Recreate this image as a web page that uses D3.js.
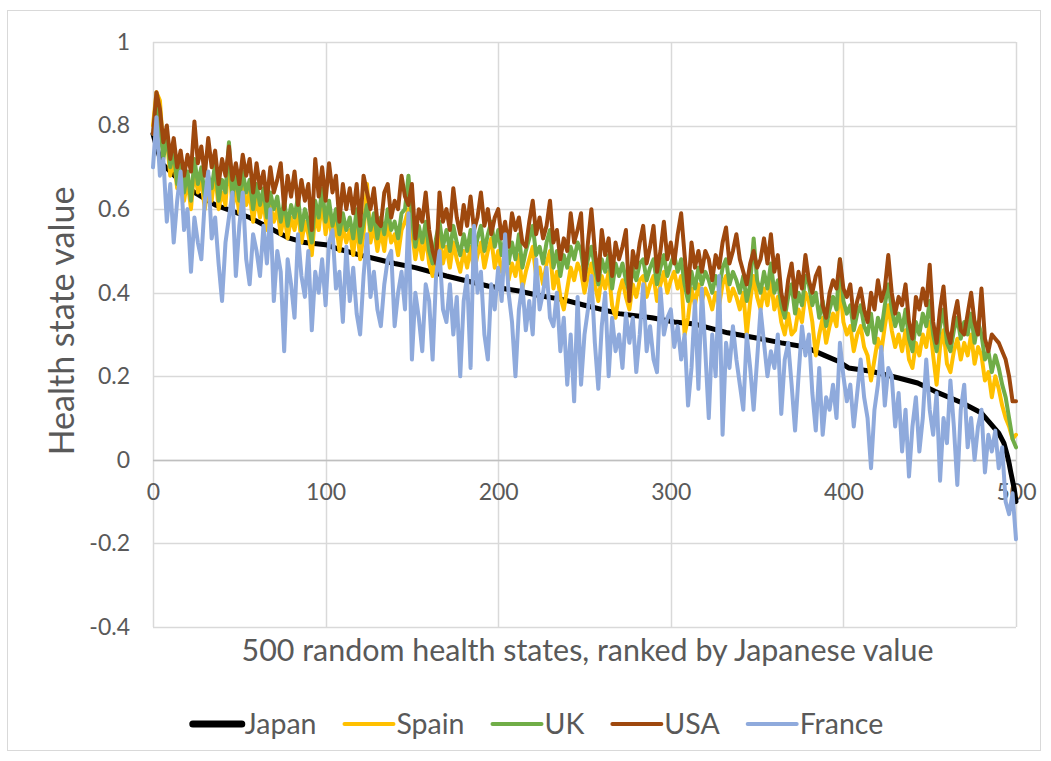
<!DOCTYPE html>
<html>
<head>
<meta charset="utf-8">
<script src="https://cdn.jsdelivr.net/npm/d3@7/dist/d3.min.js"></script>
<style>
  html, body { margin: 0; padding: 0; background: #ffffff; }
  svg { display: block; }
  text { font-family: Lato, "Open Sans", "Liberation Sans", sans-serif; fill: #595959; }
</style>
</head>
<body>
<svg id="chart" width="1051" height="761"></svg>
<script>
// ---------- DATA ----------
const seriesNames = ["Japan", "Spain", "UK", "USA", "France"];
const seriesColors = ["#000000", "#FFC000", "#70AD47", "#9E480E", "#8FAADC"];

const xTicks = [0, 100, 200, 300, 400, 500];
const yTicks = [-0.4, -0.2, 0, 0.2, 0.4, 0.6, 0.8, 1];
const yTickLabels = ["-0.4", "-0.2", "0", "0.2", "0.4", "0.6", "0.8", "1"];

// rank positions of the sampled health states (every 2nd rank)
const ranks = d3.range(0, 501, 2);

// Japan is smooth (it defines the ranking)
const japanRanks = [0, 2, 5, 10, 15, 24, 36, 56, 78, 88, 100, 108, 120, 130, 140, 152, 170, 194, 212, 225, 237, 250, 270, 289, 302, 314, 333, 352, 364, 378, 389, 397, 403, 416, 432, 443, 453, 469, 480, 490, 493, 495, 496, 497, 498, 499, 500];
const japanValues = [0.78, 0.75, 0.71, 0.69, 0.67, 0.64, 0.61, 0.58, 0.532, 0.52, 0.515, 0.504, 0.49, 0.48, 0.47, 0.46, 0.44, 0.416, 0.404, 0.392, 0.384, 0.37, 0.35, 0.34, 0.33, 0.325, 0.304, 0.29, 0.28, 0.27, 0.25, 0.236, 0.22, 0.212, 0.196, 0.184, 0.164, 0.136, 0.112, 0.064, 0.04, 0.01, -0.008, -0.03, -0.05, -0.07, -0.1];

const spainValues = [
  0.80, 0.88, 0.86, 0.74, 0.77, 0.68, 0.72, 0.65, 0.69, 0.62, 0.67, 0.60, 0.70, 0.64, 0.67, 0.60, 0.66, 0.62, 0.69, 0.60, 0.64, 0.61, 0.73, 0.60, 0.65,
  0.59, 0.66, 0.61, 0.64, 0.57, 0.63, 0.58, 0.62, 0.55, 0.61, 0.57, 0.60, 0.54, 0.59, 0.53, 0.58, 0.55, 0.60, 0.52, 0.57, 0.54, 0.49, 0.59, 0.55, 0.62,
  0.54, 0.59, 0.52, 0.57, 0.50, 0.56, 0.52, 0.55, 0.49, 0.57, 0.48, 0.54, 0.66, 0.52, 0.56, 0.50, 0.55, 0.50, 0.57, 0.52, 0.54, 0.49, 0.55, 0.57, 0.60,
  0.55, 0.48, 0.53, 0.48, 0.54, 0.47, 0.44, 0.50, 0.54, 0.47, 0.51, 0.46, 0.52, 0.48, 0.45, 0.50, 0.46, 0.51, 0.45, 0.49, 0.52, 0.46, 0.50, 0.53, 0.46,
  0.50, 0.45, 0.48, 0.43, 0.47, 0.44, 0.49, 0.41, 0.45, 0.48, 0.51, 0.44, 0.46, 0.42, 0.47, 0.50, 0.41, 0.45, 0.39, 0.36, 0.41, 0.46, 0.43, 0.47, 0.45,
  0.40, 0.44, 0.47, 0.42, 0.38, 0.44, 0.41, 0.45, 0.37, 0.34, 0.40, 0.43, 0.39, 0.36, 0.42, 0.39, 0.43, 0.44, 0.39, 0.42, 0.44, 0.38, 0.42, 0.45, 0.40,
  0.43, 0.45, 0.41, 0.44, 0.30, 0.34, 0.41, 0.37, 0.42, 0.38, 0.41, 0.39, 0.36, 0.40, 0.37, 0.42, 0.44, 0.38, 0.41, 0.39, 0.36, 0.40, 0.30, 0.38, 0.44,
  0.39, 0.36, 0.41, 0.37, 0.43, 0.36, 0.39, 0.33, 0.30, 0.35, 0.30, 0.31, 0.36, 0.33, 0.40, 0.38, 0.33, 0.25, 0.30, 0.34, 0.28, 0.32, 0.35, 0.32, 0.42,
  0.33, 0.30, 0.32, 0.26, 0.30, 0.32, 0.27, 0.25, 0.19, 0.24, 0.29, 0.26, 0.32, 0.37, 0.31, 0.27, 0.30, 0.26, 0.31, 0.24, 0.22, 0.28, 0.25, 0.30, 0.27,
  0.33, 0.25, 0.18, 0.27, 0.31, 0.23, 0.21, 0.26, 0.29, 0.24, 0.28, 0.25, 0.30, 0.23, 0.27, 0.25, 0.19, 0.21, 0.15, 0.20, 0.17, 0.13, 0.10, 0.08, 0.05,
  0.06
];

const ukValues = [
  0.78, 0.85, 0.80, 0.72, 0.78, 0.70, 0.74, 0.66, 0.71, 0.64, 0.69, 0.62, 0.72, 0.66, 0.70, 0.63, 0.68, 0.65, 0.71, 0.62, 0.67, 0.64, 0.76, 0.63, 0.68,
  0.62, 0.69, 0.64, 0.67, 0.60, 0.66, 0.61, 0.65, 0.58, 0.64, 0.60, 0.63, 0.57, 0.62, 0.56, 0.61, 0.58, 0.63, 0.55, 0.60, 0.57, 0.52, 0.62, 0.58, 0.65,
  0.57, 0.62, 0.56, 0.60, 0.54, 0.59, 0.55, 0.58, 0.53, 0.60, 0.52, 0.57, 0.61, 0.55, 0.59, 0.53, 0.58, 0.54, 0.60, 0.55, 0.57, 0.53, 0.59, 0.60, 0.68,
  0.58, 0.51, 0.56, 0.52, 0.57, 0.50, 0.47, 0.53, 0.57, 0.51, 0.55, 0.50, 0.56, 0.52, 0.49, 0.54, 0.50, 0.55, 0.49, 0.53, 0.56, 0.50, 0.54, 0.57, 0.51,
  0.55, 0.49, 0.53, 0.47, 0.52, 0.48, 0.54, 0.46, 0.50, 0.53, 0.56, 0.49, 0.51, 0.47, 0.52, 0.55, 0.46, 0.50, 0.44, 0.49, 0.46, 0.51, 0.48, 0.52, 0.50,
  0.44, 0.48, 0.51, 0.46, 0.42, 0.48, 0.45, 0.49, 0.41, 0.47, 0.44, 0.47, 0.43, 0.40, 0.46, 0.43, 0.47, 0.48, 0.43, 0.46, 0.48, 0.42, 0.46, 0.49, 0.44,
  0.47, 0.49, 0.45, 0.48, 0.42, 0.38, 0.45, 0.41, 0.46, 0.42, 0.45, 0.43, 0.40, 0.44, 0.41, 0.46, 0.48, 0.42, 0.45, 0.43, 0.40, 0.44, 0.38, 0.42, 0.53,
  0.43, 0.40, 0.45, 0.41, 0.47, 0.40, 0.43, 0.37, 0.34, 0.39, 0.42, 0.35, 0.40, 0.37, 0.44, 0.42, 0.37, 0.40, 0.34, 0.38, 0.32, 0.36, 0.39, 0.36, 0.48,
  0.38, 0.35, 0.37, 0.31, 0.35, 0.37, 0.32, 0.30, 0.35, 0.28, 0.34, 0.31, 0.37, 0.42, 0.36, 0.32, 0.35, 0.31, 0.36, 0.29, 0.26, 0.33, 0.30, 0.35, 0.32,
  0.38, 0.30, 0.26, 0.32, 0.36, 0.28, 0.26, 0.31, 0.34, 0.29, 0.33, 0.30, 0.35, 0.28, 0.33, 0.30, 0.24, 0.26, 0.21, 0.25, 0.22, 0.18, 0.15, 0.10, 0.05,
  0.03
];

const usaValues = [
  0.78, 0.88, 0.84, 0.76, 0.80, 0.72, 0.77, 0.70, 0.74, 0.68, 0.73, 0.69, 0.81, 0.71, 0.75, 0.68, 0.77, 0.70, 0.74, 0.66, 0.72, 0.68, 0.75, 0.67, 0.71,
  0.66, 0.73, 0.68, 0.72, 0.64, 0.71, 0.65, 0.69, 0.62, 0.70, 0.64, 0.67, 0.71, 0.60, 0.68, 0.63, 0.69, 0.61, 0.67, 0.62, 0.66, 0.55, 0.72, 0.63, 0.70,
  0.62, 0.71, 0.64, 0.68, 0.57, 0.66, 0.60, 0.65, 0.59, 0.66, 0.56, 0.68, 0.64, 0.60, 0.65, 0.57, 0.56, 0.64, 0.66, 0.58, 0.62, 0.60, 0.68, 0.63, 0.61,
  0.66, 0.53, 0.60, 0.57, 0.64, 0.55, 0.50, 0.47, 0.64, 0.57, 0.60, 0.55, 0.65, 0.58, 0.54, 0.61, 0.56, 0.63, 0.55, 0.58, 0.64, 0.56, 0.60, 0.54, 0.58,
  0.60, 0.53, 0.57, 0.51, 0.59, 0.55, 0.58, 0.52, 0.51, 0.57, 0.62, 0.54, 0.58, 0.53, 0.56, 0.62, 0.52, 0.55, 0.48, 0.53, 0.50, 0.59, 0.52, 0.55, 0.59,
  0.43, 0.52, 0.60, 0.50, 0.43, 0.55, 0.49, 0.53, 0.44, 0.52, 0.48, 0.51, 0.55, 0.38, 0.50, 0.46, 0.52, 0.56, 0.47, 0.51, 0.56, 0.45, 0.50, 0.57, 0.48,
  0.52, 0.47, 0.54, 0.59, 0.49, 0.40, 0.52, 0.46, 0.50, 0.45, 0.50, 0.48, 0.43, 0.49, 0.46, 0.52, 0.556, 0.47, 0.50, 0.54, 0.48, 0.45, 0.42, 0.47, 0.50,
  0.46, 0.48, 0.53, 0.47, 0.54, 0.45, 0.49, 0.40, 0.36, 0.43, 0.47, 0.39, 0.45, 0.41, 0.49, 0.43, 0.40, 0.44, 0.46, 0.37, 0.34, 0.40, 0.43, 0.41, 0.48,
  0.41, 0.39, 0.42, 0.34, 0.38, 0.41, 0.36, 0.33, 0.40, 0.36, 0.43, 0.38, 0.41, 0.49, 0.40, 0.35, 0.39, 0.37, 0.42, 0.33, 0.29, 0.39, 0.36, 0.41, 0.37,
  0.467, 0.33, 0.28, 0.36, 0.415, 0.31, 0.28, 0.34, 0.38, 0.31, 0.30, 0.35, 0.40, 0.33, 0.30, 0.41, 0.29, 0.26, 0.30, 0.29, 0.28, 0.26, 0.24, 0.20, 0.14,
  0.14
];

const franceValues = [
  0.70, 0.82, 0.68, 0.72, 0.57, 0.66, 0.52, 0.62, 0.69, 0.55, 0.60, 0.45, 0.58, 0.52, 0.48, 0.62, 0.69, 0.53, 0.58, 0.47, 0.38, 0.52, 0.58, 0.64, 0.44,
  0.56, 0.64, 0.48, 0.42, 0.54, 0.50, 0.44, 0.56, 0.47, 0.60, 0.38, 0.50, 0.45, 0.26, 0.48, 0.42, 0.34, 0.54, 0.44, 0.39, 0.50, 0.31, 0.45, 0.40, 0.48,
  0.37, 0.52, 0.55, 0.41, 0.45, 0.33, 0.51, 0.38, 0.46, 0.35, 0.30, 0.44, 0.54, 0.39, 0.45, 0.36, 0.32, 0.42, 0.48, 0.50, 0.32, 0.40, 0.45, 0.36, 0.59,
  0.24, 0.40, 0.34, 0.26, 0.42, 0.38, 0.24, 0.44, 0.50, 0.36, 0.33, 0.42, 0.30, 0.39, 0.20, 0.38, 0.44, 0.22, 0.56, 0.40, 0.45, 0.30, 0.24, 0.42, 0.36,
  0.46, 0.38, 0.54, 0.40, 0.33, 0.20, 0.36, 0.42, 0.31, 0.38, 0.30, 0.48, 0.36, 0.40, 0.46, 0.34, 0.32, 0.40, 0.26, 0.34, 0.18, 0.30, 0.14, 0.39, 0.18,
  0.30, 0.36, 0.44, 0.28, 0.17, 0.32, 0.40, 0.20, 0.34, 0.26, 0.30, 0.22, 0.35, 0.28, 0.34, 0.21, 0.30, 0.42, 0.26, 0.32, 0.24, 0.21, 0.41, 0.30, 0.34,
  0.36, 0.27, 0.32, 0.24, 0.30, 0.13, 0.22, 0.38, 0.17, 0.41, 0.26, 0.10, 0.30, 0.20, 0.44, 0.06, 0.28, 0.22, 0.32, 0.24, 0.18, 0.12, 0.30, 0.22, 0.12,
  0.24, 0.36, 0.28, 0.20, 0.26, 0.22, 0.30, 0.11, 0.24, 0.28, 0.18, 0.07, 0.20, 0.32, 0.25, 0.30, 0.16, 0.07, 0.22, 0.06, 0.15, 0.12, 0.18, 0.10, 0.28,
  0.20, 0.14, 0.18, 0.08, 0.16, 0.24, 0.15, 0.10, -0.02, 0.12, 0.18, 0.27, 0.13, 0.22, 0.20, 0.08, 0.16, 0.02, 0.12, -0.04, 0.08, 0.15, 0.02, 0.10, 0.24,
  0.12, 0.06, 0.16, -0.05, 0.10, 0.04, 0.19, 0.08, -0.06, 0.12, 0.18, 0.03, 0.10, 0.00, 0.08, 0.12, -0.03, 0.06, 0.02, 0.07, -0.02, 0.03, -0.10, -0.13, -0.08,
  -0.19
];

const xTitle = "500 random health states, ranked by Japanese value";
const yTitle = "Health state value";

// ---------- LAYOUT ----------
const svg = d3.select("#chart");
const plot = { left: 153, right: 1016, top: 42, bottom: 627 };

const x = d3.scaleLinear().domain([0, 500]).range([plot.left, plot.right]);
const y = d3.scaleLinear().domain([-0.4, 1]).range([plot.bottom, plot.top]);

// outer chart border
svg.append("rect")
  .attr("x", 7.5).attr("y", 10.5)
  .attr("width", 1033).attr("height", 740)
  .attr("fill", "#ffffff").attr("stroke", "#d9d9d9").attr("stroke-width", 1);

// gridlines
const grid = svg.append("g");
grid.selectAll("line.h").data(yTicks).join("line")
  .attr("x1", plot.left).attr("x2", plot.right)
  .attr("y1", d => Math.round(y(d)) + 0.5).attr("y2", d => Math.round(y(d)) + 0.5)
  .attr("stroke", "#d9d9d9").attr("stroke-width", 1.5);
grid.selectAll("line.v").data(xTicks).join("line")
  .attr("y1", plot.top).attr("y2", plot.bottom)
  .attr("x1", d => Math.round(x(d)) + 0.5).attr("x2", d => Math.round(x(d)) + 0.5)
  .attr("stroke", "#d9d9d9").attr("stroke-width", 1.5);

// horizontal axis at y = 0
svg.append("line")
  .attr("x1", plot.left).attr("x2", plot.right)
  .attr("y1", Math.round(y(0)) + 0.5).attr("y2", Math.round(y(0)) + 0.5)
  .attr("stroke", "#bfbfbf").attr("stroke-width", 1.5);

// y-axis tick labels
const yAxis = d3.axisLeft(y).tickValues(yTicks).tickSize(0).tickPadding(23)
  .tickFormat((d, i) => yTickLabels[i]);
svg.append("g").attr("transform", `translate(${plot.left},0)`).call(yAxis)
  .call(g => g.select(".domain").remove())
  .call(g => g.selectAll("text").attr("font-size", 23).attr("fill", "#595959")
    .attr("font-family", "Lato, 'Open Sans', sans-serif"));

// x-axis tick labels (below the zero line)
const xAxis = d3.axisBottom(x).tickValues(xTicks).tickSize(0).tickPadding(24);
svg.append("g").attr("transform", `translate(0,${y(0)})`).call(xAxis)
  .call(g => g.select(".domain").remove())
  .call(g => g.selectAll("text").attr("font-size", 23).attr("fill", "#595959")
    .attr("font-family", "Lato, 'Open Sans', sans-serif"));

// series lines
const seriesData = [
  japanRanks.map((r, i) => [r, japanValues[i]]),
  ranks.map((r, i) => [r, spainValues[i]]),
  ranks.map((r, i) => [r, ukValues[i]]),
  ranks.map((r, i) => [r, usaValues[i]]),
  ranks.map((r, i) => [r, franceValues[i]])
];
const line = d3.line().x(d => x(d[0])).y(d => y(d[1]));
svg.append("g").selectAll("path").data(seriesData).join("path")
  .attr("d", line)
  .attr("fill", "none")
  .attr("stroke", (d, i) => seriesColors[i])
  .attr("stroke-width", (d, i) => i === 0 ? 5 : 4)
  .attr("stroke-linejoin", "round")
  .attr("stroke-linecap", "round");

// axis titles
svg.append("text")
  .attr("x", (plot.left + plot.right) / 2 + 3).attr("y", 661)
  .attr("text-anchor", "middle").attr("font-size", 30)
  .attr("textLength", 692).attr("lengthAdjust", "spacingAndGlyphs")
  .text(xTitle);
svg.append("text")
  .attr("transform", `translate(74,321) rotate(-90)`)
  .attr("text-anchor", "middle").attr("font-size", 34)
  .text(yTitle);

// legend
const legend = svg.append("g");
const legendY = 724;
const items = legend.selectAll("g").data(seriesNames).join("g");
items.append("line")
  .attr("x1", 2).attr("x2", 51).attr("y1", legendY).attr("y2", legendY)
  .attr("stroke", (d, i) => seriesColors[i])
  .attr("stroke-width", (d, i) => i === 0 ? 7 : 4)
  .attr("stroke-linecap", "round");
items.append("text")
  .attr("x", 54).attr("y", legendY).attr("dy", "0.36em")
  .attr("font-size", 28.5)
  .text(d => d);
const widths = [];
items.each(function () {
  widths.push(54 + d3.select(this).select("text").node().getComputedTextLength());
});
const total = d3.sum(widths) + 26 * (widths.length - 1);
let cursor = 537 - total / 2;
items.attr("transform", (d, i) => {
  const t = `translate(${cursor},0)`;
  cursor += widths[i] + 26;
  return t;
});
</script>
</body>
</html>
